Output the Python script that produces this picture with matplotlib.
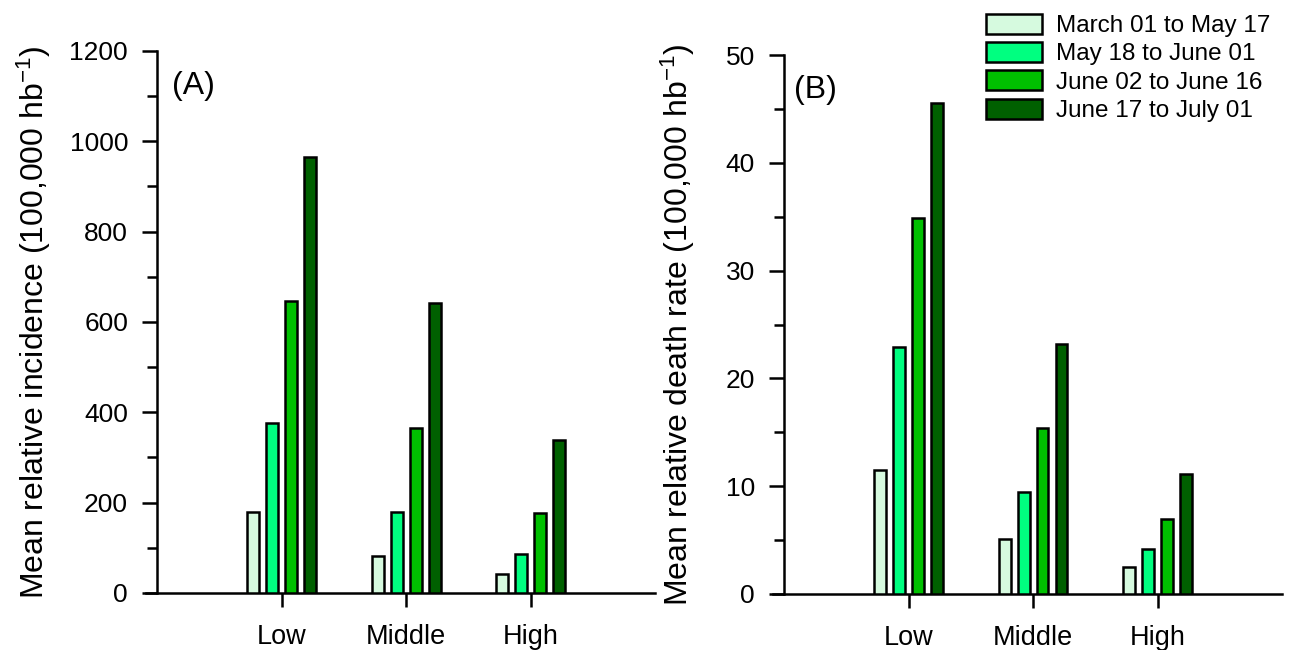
import matplotlib
matplotlib.use('Agg')
import matplotlib.pyplot as plt
from matplotlib.ticker import MultipleLocator
import numpy as np

plt.rcParams['font.family'] = ['Liberation Sans', 'DejaVu Sans']
plt.rcParams['mathtext.default'] = 'regular'

# data
categories = ['Low', 'Middle', 'High']
periods = ['March 01 to May 17', 'May 18 to June 01',
           'June 02 to June 16', 'June 17 to July 01']
incidence = [
    [180, 82, 42],
    [376, 180, 87],
    [646, 365, 178],
    [965, 643, 338],
]
death_rate = [
    [11.5, 5.1, 2.5],
    [22.9, 9.5, 4.2],
    [34.9, 15.4, 7.0],
    [45.6, 23.2, 11.1],
]
colors = ['#d6fadf', '#00ff80', '#00c000', '#006000']

x = np.arange(1, len(categories) + 1)
step = 0.152
width = 0.095


def draw_panel(ax, data, ymax, major, minor, ylabel, tag, tag_x, label_x):
    for i, vals in enumerate(data):
        ax.bar(x + (i - 1.5) * step, vals, width, color=colors[i],
               edgecolor='black', linewidth=1.8, label=periods[i], zorder=3)
    ax.set_xlim(-0.09, 4)
    ax.set_ylim(0, ymax)
    ax.spines['left'].set_position(('data', 0))
    ax.spines['top'].set_visible(False)
    ax.spines['right'].set_visible(False)
    for s in ['left', 'bottom']:
        ax.spines[s].set_linewidth(1.8)
    ax.set_xticks(x)
    ax.set_xticklabels(categories, fontsize=19.5)
    ax.yaxis.set_major_locator(MultipleLocator(major))
    ax.yaxis.set_minor_locator(MultipleLocator(minor))
    ax.tick_params(axis='y', which='major', length=11, width=1.8, labelsize=19, pad=10)
    ax.tick_params(axis='y', which='minor', length=7, width=1.8)
    ax.tick_params(axis='x', which='major', length=10, width=1.8, pad=12)
    ax.set_ylabel(ylabel, fontsize=23)
    ax.yaxis.set_label_coords(label_x, 0.5)
    ax.text(tag_x, ymax * 0.936, tag, fontsize=23, va='center', ha='left')


fig = plt.figure(figsize=(12.99, 6.5), dpi=100)
ax1 = fig.add_axes([0.1124, 0.0877, 0.392, 0.834])
ax2 = fig.add_axes([0.595, 0.0862, 0.392, 0.829])

draw_panel(ax1, incidence, 1200, 200, 100,
           'Mean relative incidence (100,000 hb$^{-1}$)', '(A)', 0.12, -0.183)
draw_panel(ax2, death_rate, 50, 10, 5,
           'Mean relative death rate (100,000 hb$^{-1}$)', '(B)', 0.08, -0.15)

fig.legend(*ax2.get_legend_handles_labels(), loc='upper left',
           bbox_to_anchor=(0.759, 0.979), bbox_transform=fig.transFigure,
           frameon=False, fontsize=17.5, handlelength=2.3, handleheight=0.9,
           handletextpad=0.6, labelspacing=0.2, borderpad=0, borderaxespad=0)

fig.savefig('out.png', dpi=100)
